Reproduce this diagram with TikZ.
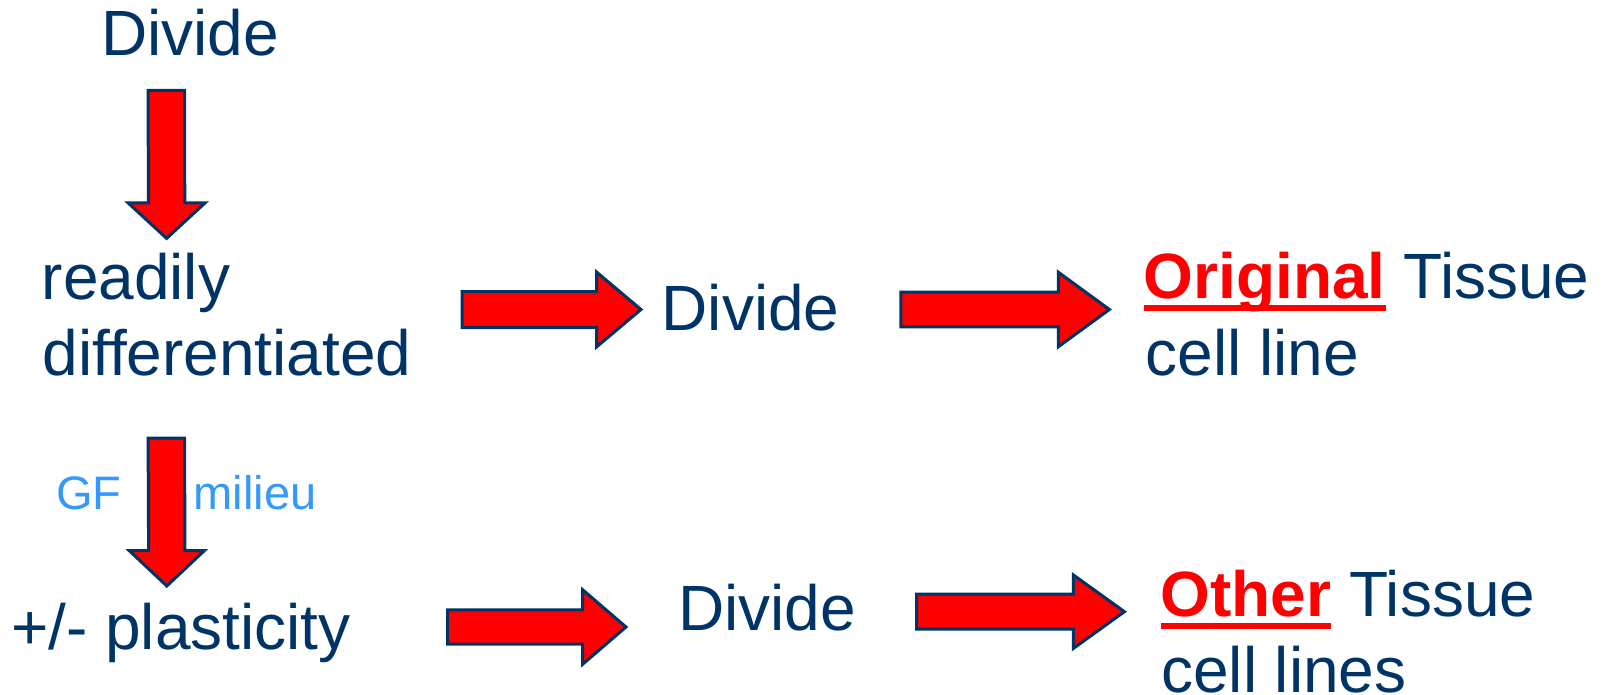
\documentclass[tikz,border=0pt]{standalone}
\usepackage{fontspec}
\setmainfont{Liberation Sans}
\usetikzlibrary{calc}
\definecolor{navy}{HTML}{003366}
\definecolor{lblue}{HTML}{3399FF}
\definecolor{bred}{HTML}{FF0000}
\newcommand\redul[1]{{\color{bred}\bfseries\setbox0=\hbox{#1}\rlap{\rule[-12.7pt]{\wd0}{6pt}}\box0}}
% horizontal block arrow: start, tip, shaft half, head half, head length
\newcommand\harrow[5]{%
  \draw[blk] ($(#1)+(0,-#3)$) -- ($(#2)+(-#5,-#3)$) -- ($(#2)+(-#5,-#4)$) -- (#2)
    -- ($(#2)+(-#5,#4)$) -- ($(#2)+(-#5,#3)$) -- ($(#1)+(0,#3)$) -- cycle;}
% vertical block arrow (downwards)
\newcommand\varrow[5]{%
  \draw[blk] ($(#1)+(-#3,0)$) -- ($(#2)+(-#3,-#5)$) -- ($(#2)+(-#4,-#5)$) -- (#2)
    -- ($(#2)+(#4,-#5)$) -- ($(#2)+(#3,-#5)$) -- ($(#1)+(#3,0)$) -- cycle;}
\begin{document}
\begin{tikzpicture}[x=1pt,y=-1pt,
  txt/.style={anchor=base west,inner sep=0pt,text=navy,font=\fontsize{64}{76}\selectfont},
  small/.style={anchor=base west,inner sep=0pt,text=lblue,font=\fontsize{47}{56}\selectfont},
  blk/.style={fill=bred,draw=navy,line width=3pt,line join=miter}]
\useasboundingbox (0,0) rectangle (1606,695);
% texts
\node[txt] (d1) at (101,56) {Divide};
\node[txt] (rd1) at (41.5,299.3) {readily};
\node[txt] (rd2) at (42.5,375) {differentiated};
\node[txt] (d2) at (661.5,330) {Divide};
\node[txt] (ot1) at (1143.5,298.3) {\redul{Original} Tissue};
\node[txt] (ot2) at (1145.5,375) {cell line};
\node[txt] (pl) at (11,649.3) {+/- plasticity};
\node[txt] (d3) at (678,630) {Divide};
\node[txt] (oo1) at (1160.5,616.7) {\redul{Other} Tissue};
\node[txt] (oo2) at (1161,692.7) {cell lines};
\node[small] (gf) at (56,509.3) {GF};
\node[small] (mi) at (193.5,509.3) {milieu};
% arrow end points
\coordinate (a1s) at (166.3,90.5);
\coordinate (a1t) at (166.6,238.4);
\coordinate (a4s) at (166.3,438.2);
\coordinate (a4t) at (166.8,586);
\coordinate (a2s) at (462.2,309.5);
\coordinate (a2t) at (641,309.5);
\coordinate (a3s) at (900.8,309.5);
\coordinate (a3t) at (1109.4,309.5);
\coordinate (a5s) at (447.5,627);
\coordinate (a5t) at (626,627);
\coordinate (a6s) at (916.5,611.7);
\coordinate (a6t) at (1124.4,611.7);
% arrows
\varrow{a1s}{a1t}{18.2}{38.5}{35.5}
\varrow{a4s}{a4t}{18.2}{37.7}{35.5}
\harrow{a2s}{a2t}{18}{37.3}{44.3}
\harrow{a3s}{a3t}{17.3}{37.3}{51.1}
\harrow{a5s}{a5t}{17.2}{37.2}{43.3}
\harrow{a6s}{a6t}{17.5}{36.8}{51.1}
\end{tikzpicture}
\end{document}
